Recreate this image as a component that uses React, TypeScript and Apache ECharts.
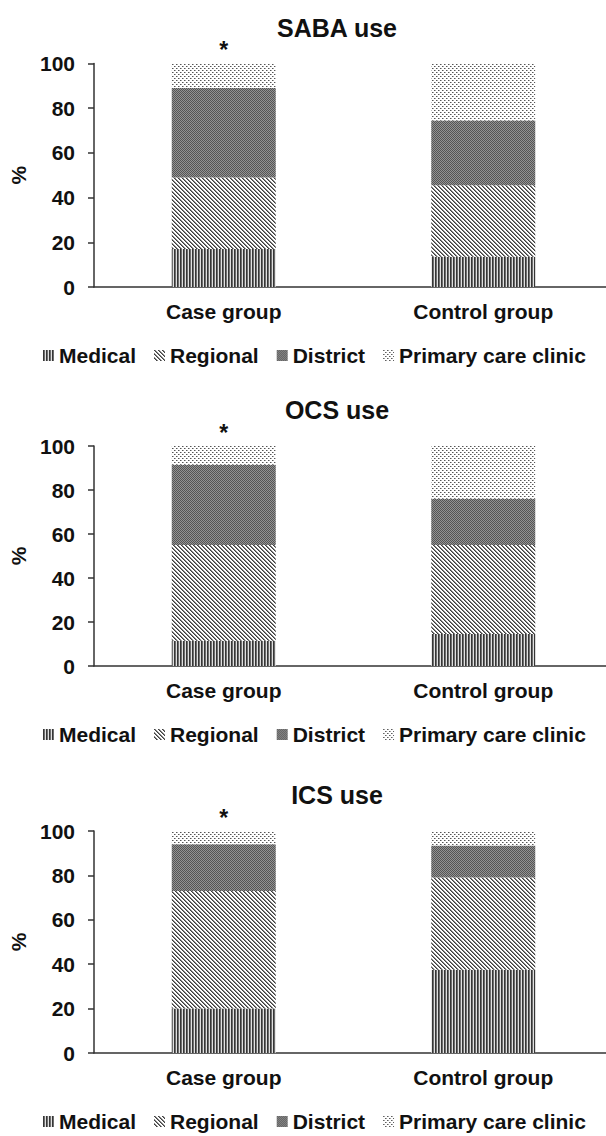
import React, { useEffect, useRef } from 'react';
import * as echarts from 'echarts';

// ---- data ----
const categories = ['Case group', 'Control group'];
const segmentNames = ['Medical', 'Regional', 'District', 'Primary care clinic'];
const panelTitles = ['SABA use', 'OCS use', 'ICS use'];

const sabaMedical = [17, 13.5];
const sabaRegional = [32, 32];
const sabaDistrict = [40, 29];
const sabaPrimary = [11, 25.5];

const ocsMedical = [11.5, 14.5];
const ocsRegional = [43.5, 40.5];
const ocsDistrict = [36.5, 21];
const ocsPrimary = [8.5, 24];

const icsMedical = [20, 37.5];
const icsRegional = [53, 41.5];
const icsDistrict = [21, 14.5];
const icsPrimary = [6, 6.5];

const significanceMarks = ['*', ''];
const yMin = 0;
const yMax = 100;
const yStep = 20;

const panelData = [
  [sabaMedical, sabaRegional, sabaDistrict, sabaPrimary],
  [ocsMedical, ocsRegional, ocsDistrict, ocsPrimary],
  [icsMedical, icsRegional, icsDistrict, icsPrimary],
];

// ---- layout ----
const panelTops = [63.5, 446, 831];
const panelHeights = [223.5, 220, 222];
const FONT = '"Liberation Sans", Arial, Helvetica, sans-serif';
const TEXT = '#111';

function tile(w: number, h: number, px: (x: number, y: number) => string) {
  const c = document.createElement('canvas');
  c.width = w;
  c.height = h;
  const ctx = c.getContext('2d')!;
  for (let y = 0; y < h; y++) {
    for (let x = 0; x < w; x++) {
      ctx.fillStyle = px(x, y);
      ctx.fillRect(x, y, 1, 1);
    }
  }
  return { image: c, repeat: 'repeat' } as any;
}

export default function App() {
  const ref = useRef<HTMLDivElement>(null);
  useEffect(() => {
    document.body.style.margin = '0';
    const chart = echarts.init(ref.current!, null, { renderer: 'svg' });

    const patterns = [
      tile(3, 1, (x) => (x === 0 ? '#363636' : x === 1 ? '#6e6e6e' : '#e0e0e0')),
      tile(4, 4, (x, y) => (x === y ? '#3c3c3c' : x === (y + 1) % 4 ? '#888888' : '#ffffff')),
      tile(2, 2, (x, y) => ((x + y) % 2 === 0 ? '#555555' : '#939393')),
      tile(4, 4, (x, y) => {
        if ((x === 0 && y === 0) || (x === 2 && y === 2)) return '#555555';
        if ((x === 1 && y === 0) || (x === 3 && y === 2)) return '#a8a8a8';
        return '#ffffff';
      }),
    ];

    const grids: any[] = [];
    const xAxes: any[] = [];
    const yAxes: any[] = [];
    const series: any[] = [];
    const legends: any[] = [];
    const graphics: any[] = [];

    panelData.forEach((segs, i) => {
      grids.push({
        left: 94,
        width: 519,
        top: panelTops[i],
        height: panelHeights[i],
        outerBoundsMode: 'none',
        containLabel: false,
      });
      xAxes.push({
        type: 'category',
        gridIndex: i,
        data: categories,
        axisLine: { lineStyle: { color: '#333', width: 1.5 } },
        axisTick: { show: false },
        axisLabel: { fontSize: 21, fontWeight: 'bold', color: TEXT, fontFamily: FONT, margin: 14 },
      });
      yAxes.push({
        type: 'value',
        gridIndex: i,
        min: yMin,
        max: yMax,
        interval: yStep,
        axisLine: { show: true, lineStyle: { color: '#333', width: 1.5 } },
        axisTick: { show: true, length: 6, lineStyle: { color: '#333', width: 1.5 } },
        splitLine: { show: false },
        axisLabel: { fontSize: 21, fontWeight: 'bold', color: TEXT, fontFamily: FONT, margin: 19 },
        name: '%',
        nameLocation: 'middle',
        nameGap: 62,
        nameTextStyle: { fontSize: 21, fontWeight: 'bold', color: TEXT, fontFamily: FONT },
      });
      segs.forEach((vals, j) => {
        const isTop = j === segs.length - 1;
        series.push({
          type: 'bar',
          name: segmentNames[j],
          stack: 'panel' + i,
          xAxisIndex: i,
          yAxisIndex: i,
          barWidth: 104,
          itemStyle: { color: patterns[j] },
          data: vals.map((v, k) =>
            isTop && significanceMarks[k]
              ? {
                  value: v,
                  label: {
                    show: true,
                    position: 'top',
                    distance: 2,
                    formatter: significanceMarks[k],
                    fontSize: 23,
                    fontWeight: 'bold',
                    color: TEXT,
                    fontFamily: FONT,
                  },
                }
              : v
          ),
        });
      });
      legends.push({
        top: panelTops[i] + panelHeights[i] + 53,
        left: 38,
        icon: 'rect',
        itemWidth: 11,
        itemHeight: 11,
        itemGap: 18,
        selectedMode: false,
        data: segmentNames,
        textStyle: { fontSize: 21, fontWeight: 'bold', color: TEXT, fontFamily: FONT },
      });
      graphics.push({
        type: 'text',
        x: 337,
        y: panelTops[i] - 36,
        style: {
          text: panelTitles[i],
          fontSize: 25,
          fontWeight: 'bold',
          fontFamily: FONT,
          fill: TEXT,
          align: 'center',
          verticalAlign: 'middle',
        },
      });
    });

    chart.setOption({
      animation: false,
      backgroundColor: '#ffffff',
      grid: grids,
      xAxis: xAxes,
      yAxis: yAxes,
      series,
      legend: legends,
      graphic: graphics,
    });
    return () => chart.dispose();
  }, []);
  return <div ref={ref} style={{ width: 606, height: 1136 }} />;
}
